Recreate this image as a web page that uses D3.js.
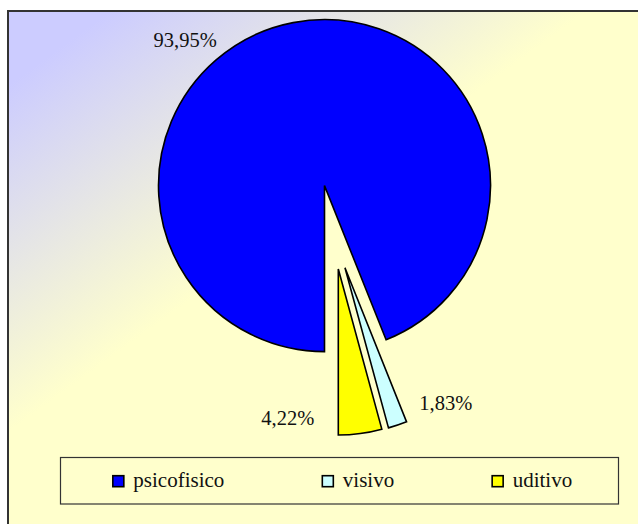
<!DOCTYPE html>
<html><head><meta charset="utf-8">
<script src="https://cdn.jsdelivr.net/npm/d3@7"></script>
</head><body style="margin:0">
<script>
const categories = ["psicofisico", "visivo", "uditivo"];
const values = [93.95, 1.83, 4.22];
const valueLabels = ["93,95%", "1,83%", "4,22%"];
const colors = ["#0000FF", "#CCFFFF", "#FFFF00"];

// layout: explosion direction (degrees, clockwise from 12 o'clock) and distance per slice
const explodeDeg = [0, 166, 170.6];
const explodeDist = [0, 84.6, 84.5];

const W = 638, H = 524;
const svg = d3.select("body").append("svg").attr("width", W).attr("height", H).style("display", "block");
const defs = svg.append("defs");
const grad = defs.append("linearGradient").attr("id", "bg")
  .attr("gradientUnits", "userSpaceOnUse")
  .attr("x1", 43).attr("y1", 60).attr("x2", 208).attr("y2", 287);
grad.append("stop").attr("offset", 0).attr("stop-color", "#CCCCFF");
grad.append("stop").attr("offset", 1).attr("stop-color", "#FFFFCC");

svg.append("rect").attr("x", 8).attr("y", 11).attr("width", 700).attr("height", 600)
  .attr("fill", "url(#bg)").attr("stroke", "#333").attr("stroke-width", 2);

const cx = 324.5, cy = 185.6, R = 166;
const pie = d3.pie().sort(null).startAngle(Math.PI).endAngle(3 * Math.PI);
const arcs = pie(values);
const arc = d3.arc().innerRadius(0).outerRadius(R);

const g = svg.append("g").attr("transform", `translate(${cx},${cy})`);
function offset(i) {
  const a = explodeDeg[i] * Math.PI / 180;
  return [Math.sin(a) * explodeDist[i], -Math.cos(a) * explodeDist[i]];
}
g.selectAll("path").data(arcs).join("path")
  .attr("d", arc)
  .attr("transform", (d, i) => { const o = offset(i); return `translate(${o[0]},${o[1]})`; })
  .attr("fill", (d, i) => colors[i])
  .attr("stroke", "#000").attr("stroke-width", 1.6).attr("stroke-linejoin", "miter");

function outerPoint(i, ang) {
  const o = offset(i);
  return [o[0] + Math.sin(ang) * R, o[1] - Math.cos(ang) * R];
}
const labelSpec = [
  { ang: d => (d.startAngle + d.endAngle) / 2, anchor: "end", dx: -76.4, dy: 24.7 },
  { ang: d => d.startAngle, anchor: "start", dx: 12.7, dy: -11.7 },
  { ang: d => d.endAngle, anchor: "end", dx: -24, dy: -10 }
];
const labels = svg.append("g").attr("transform", `translate(${cx},${cy})`);
arcs.forEach((d, i) => {
  const s = labelSpec[i];
  const p = outerPoint(i, s.ang(d));
  labels.append("text")
    .style("font-family", '"Liberation Serif", "Times New Roman", serif')
    .style("font-size", "20.5px")
    .attr("x", p[0] + s.dx).attr("y", p[1] + s.dy).attr("text-anchor", s.anchor)
    .attr("fill", "#111")
    .text(valueLabels[i]);
});

// legend
const lx = 60.5, ly = 457.5, lw = 558, lh = 46.5;
svg.append("rect").attr("x", lx).attr("y", ly).attr("width", lw).attr("height", lh)
  .attr("fill", "#FFFFCC").attr("stroke", "#333").attr("stroke-width", 1.2);
const legend = svg.append("g");
const itemNodes = categories.map((c, i) => {
  const it = legend.append("g");
  const r = it.append("rect").attr("width", 11).attr("height", 11).attr("y", 475.7)
    .attr("fill", colors[i]).attr("stroke", "#000").attr("stroke-width", 1.6);
  const t = it.append("text").attr("y", 487)
    .style("font-family", '"Liberation Serif", "Times New Roman", serif').style("font-size", "21px")
    .attr("fill", "#111").text(c);
  return { r, t };
});
const gap = 98;
const widths = itemNodes.map(n => 20.5 + n.t.node().getComputedTextLength());
const total = d3.sum(widths) + gap * (widths.length - 1);
let x0 = lx + (lw - total) / 2 + 3;
itemNodes.forEach((n, i) => {
  n.r.attr("x", x0);
  n.t.attr("x", x0 + 20.5);
  x0 += widths[i] + gap;
});
</script>
</body></html>
